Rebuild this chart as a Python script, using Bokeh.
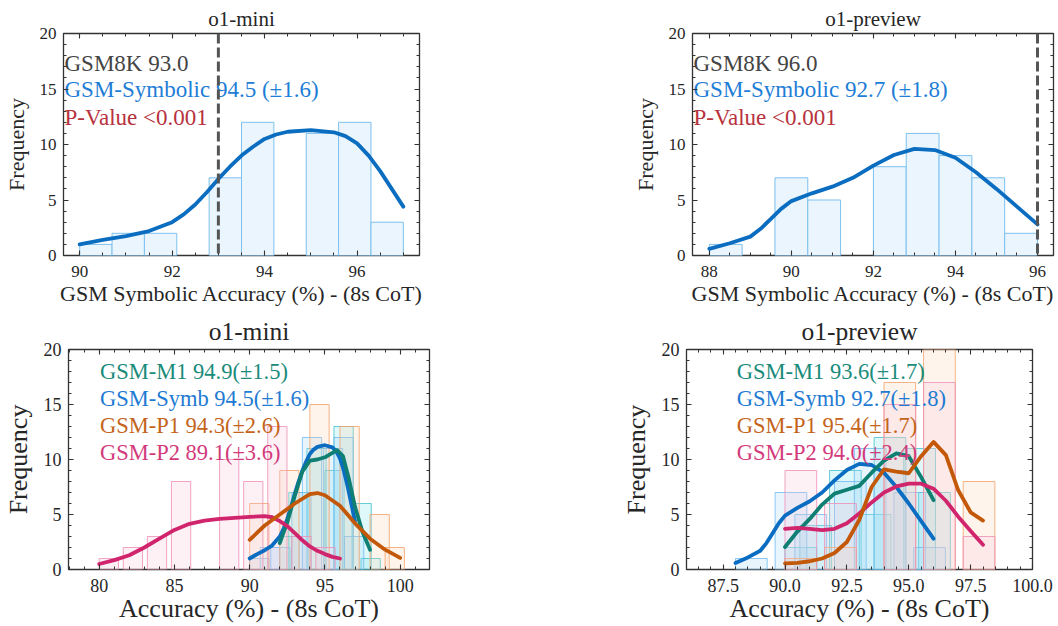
import math
from bokeh.plotting import figure
from bokeh.models import (Range1d, SingleIntervalTicker, FixedTicker, LinearAxis, Span,
                          PrintfTickFormatter, ColumnDataSource)
from bokeh.core.properties import value
from bokeh.layouts import column, row
from bokeh.embed import file_html
from bokeh.resources import INLINE

FONT = "Liberation Serif"
INK = "#262626"

# ---------------- data ----------------
# Top row: GSM-Symbolic accuracy distribution (8s CoT)
mini_sym_bin_left = [90.0, 90.7, 91.4, 92.1, 92.8, 93.5, 94.2, 94.9, 95.6, 96.3]
mini_sym_counts = [1, 2, 2, 0, 7, 12, 0, 11, 12, 3]
mini_sym_bin_w = 0.7
mini_sym_kde_x = [90.0, 90.5, 91.0, 91.5, 92.0, 92.25, 92.5, 92.75, 93.0, 93.25, 93.5, 93.75,
                  94.0, 94.25, 94.5, 95.0, 95.5, 95.75, 96.0, 96.25, 96.5, 96.75, 97.0]
mini_sym_kde_y = [1.0, 1.4, 1.75, 2.2, 3.0, 3.7, 4.6, 5.7, 6.9, 8.0, 9.0, 9.8,
                  10.5, 10.9, 11.15, 11.3, 11.1, 10.75, 10.1, 9.0, 7.6, 6.0, 4.4]
mini_gsm8k = 93.0

prev_sym_bin_left = [88.0, 88.8, 89.6, 90.4, 91.2, 92.0, 92.8, 93.6, 94.4, 95.2]
prev_sym_counts = [1, 0, 7, 5, 0, 8, 11, 9, 7, 2]
prev_sym_bin_w = 0.8
prev_sym_kde_x = [88.0, 88.5, 89.0, 89.25, 89.5, 89.75, 90.0, 90.5, 91.0, 91.5, 92.0, 92.5,
                  93.0, 93.5, 94.0, 94.5, 95.0, 95.5, 96.0]
prev_sym_kde_y = [0.6, 1.1, 1.7, 2.4, 3.3, 4.2, 4.9, 5.6, 6.2, 7.0, 8.1, 9.05,
                  9.6, 9.5, 8.8, 7.5, 6.0, 4.4, 2.8]
prev_gsm8k = 96.0
p_value_text = "<0.001"

# Bottom row: variants
variants = ["GSM-M1", "GSM-Symb", "GSM-P1", "GSM-P2"]
mini_means = [94.9, 94.5, 94.3, 89.1]
mini_stds = [1.5, 1.6, 2.6, 3.6]
prev_means = [93.6, 92.7, 95.4, 94.0]
prev_stds = [1.7, 1.8, 1.7, 2.4]
sym_mini_mean, sym_mini_std = mini_means[1], mini_stds[1]
sym_prev_mean, sym_prev_std = prev_means[1], prev_stds[1]

bottom_bar_w = 1.28

# o1-mini
mini_m1_left = [92.0, 92.6, 93.8, 95.0, 95.6, 96.8, 97.4]
mini_m1_counts = [3, 7, 11, 9, 13, 6, 1]
mini_m1_kde_x = [92.0, 92.5, 93.0, 93.5, 94.0, 94.5, 95.0, 95.5, 95.8, 96.2, 96.6, 97.0, 97.5, 98.0]
mini_m1_kde_y = [2.4, 4.3, 6.7, 8.9, 9.9, 10.0, 10.2, 10.6, 10.85, 10.3, 8.2, 5.7, 3.4, 1.8]

mini_sy_left = [90.0, 90.7, 91.4, 92.8, 93.5, 94.9, 95.6, 96.3]
mini_sy_counts = [1, 2, 2, 7, 12, 11, 12, 3]

mini_p1_left = [90.0, 92.0, 94.0, 96.0, 98.0, 99.0]
mini_p1_counts = [6, 9, 15, 13, 5, 2]
mini_p1_kde_x = [90.0, 91.0, 92.0, 93.0, 94.0, 94.5, 95.0, 96.0, 97.0, 98.0, 99.0, 100.0]
mini_p1_kde_y = [2.7, 4.0, 5.0, 6.0, 6.85, 6.95, 6.75, 5.8, 4.2, 2.8, 1.8, 1.05]

mini_p2_left = [80.0, 81.6, 83.2, 84.8, 88.0, 89.6, 91.2, 92.8, 94.4]
mini_p2_counts = [1, 2, 3, 8, 10, 8, 13, 3, 2]
mini_p2_kde_x = [80, 81, 82, 83, 84, 85, 86, 87, 88, 89, 90, 91, 91.5, 92, 92.5, 93, 93.5,
                 94, 94.5, 95, 95.5, 96]
mini_p2_kde_y = [0.5, 0.85, 1.3, 2.0, 2.8, 3.6, 4.15, 4.45, 4.6, 4.7, 4.78, 4.85, 4.75, 4.4,
                 3.95, 3.3, 2.65, 2.1, 1.7, 1.4, 1.15, 1.0]

# o1-preview
prev_m1_left = [90.0, 90.6, 91.8, 93.0, 93.6, 94.8, 95.4]
prev_m1_counts = [2, 4, 9, 5, 12, 11, 7]
prev_m1_kde_x = [90.0, 90.5, 91.0, 91.5, 92.0, 92.5, 93.0, 93.5, 94.0, 94.5, 95.0, 95.5, 96.0]
prev_m1_kde_y = [2.05, 3.45, 4.6, 5.9, 6.9, 7.25, 7.6, 8.8, 9.9, 10.55, 10.3, 8.4, 6.3]

prev_sy_left = [88.0, 89.6, 90.4, 92.0, 92.8, 93.6, 94.4, 95.2]
prev_sy_counts = [1, 7, 5, 8, 11, 9, 7, 2]

prev_p1_left = [90.0, 91.6, 94.0, 95.6, 97.2]
prev_p1_counts = [1, 2, 17, 22, 8]
prev_p1_kde_x = [90.0, 90.5, 91.0, 91.5, 92.0, 92.5, 93.0, 93.5, 94.0, 94.5, 95.0, 95.5,
                 96.0, 96.5, 97.0, 97.5, 98.0]
prev_p1_kde_y = [0.55, 0.6, 0.75, 1.0, 1.5, 2.5, 4.5, 7.5, 9.1, 8.9, 8.75, 10.3,
                 11.6, 10.4, 7.2, 5.2, 4.45]

prev_p2_left = [90.0, 91.6, 94.0, 95.6, 97.2]
prev_p2_counts = [9, 6, 15, 17, 3]
prev_p2_kde_x = [90.0, 90.5, 91.0, 91.5, 92.0, 92.5, 93.0, 93.5, 94.0, 94.5, 95.0, 95.5,
                 96.0, 96.5, 97.0, 97.5, 98.0]
prev_p2_kde_y = [3.7, 3.78, 3.7, 3.57, 3.7, 4.2, 5.1, 6.1, 7.0, 7.55, 7.8, 7.8,
                 7.35, 6.25, 4.8, 3.5, 2.25]

# ---------------- styles ----------------
LINE_COL = {"GSM-M1": "#0E7F72", "GSM-Symb": "#0A6DC2", "GSM-P1": "#C25808", "GSM-P2": "#D0256C"}
TXT_COL = {"GSM-M1": "#1A8B7B", "GSM-Symb": "#1E7AD2", "GSM-P1": "#C4641C", "GSM-P2": "#D23A7B"}
BAR_EDGE = {"GSM-M1": "#3EC2CC", "GSM-Symb": "#6DB9F0", "GSM-P1": "#F4A066", "GSM-P2": "#EF8DB5"}
BAR_FILL = {"GSM-M1": "#7FE3EC", "GSM-Symb": "#A9D6F7", "GSM-P1": "#FBD3B5", "GSM-P2": "#F9C6DB"}


def tick_positions(lo, hi, step):
    k0 = math.ceil(lo / step - 1e-9)
    k1 = math.floor(hi / step + 1e-9)
    return [round(k * step, 6) for k in range(k0, k1 + 1)]


def mirror_axis(p, loc, lo, hi, step, length):
    ax = LinearAxis(ticker=FixedTicker(ticks=[], minor_ticks=tick_positions(lo, hi, step)))
    ax.axis_line_color = None
    ax.major_tick_line_color = None
    ax.minor_tick_in = length
    ax.minor_tick_out = 0
    ax.minor_tick_line_color = "#333333"
    ax.minor_tick_line_width = 1.1 if length > 4 else 1.0
    ax.major_label_standoff = 0
    p.add_layout(ax, loc)


def base_fig(w, h, xr, yr, borders, title, title_size, xint, xminor, yint=5, yminor=5,
             tick_size="17px", label_size="22px", xlabel="", xfmt=None,
             x_std=11, x_lstd=1, title_off=0):
    l, r, t, b = borders
    p = figure(width=w, height=h, x_range=Range1d(*xr), y_range=Range1d(*yr),
               output_backend="svg", toolbar_location=None, x_axis_type=None, y_axis_type=None,
               min_border_left=l, min_border_right=r, min_border_top=t, min_border_bottom=b,
               title=title)
    p.title.align = "center"
    p.title.text_font = FONT
    p.title.text_font_size = title_size
    p.title.text_font_style = "normal"
    p.title.text_color = INK
    p.title.standoff = title_off
    p.outline_line_color = "#333333"
    p.outline_line_width = 1.3
    p.background_fill_color = "white"
    p.border_fill_color = "white"
    xt = SingleIntervalTicker(interval=xint, num_minor_ticks=xminor)
    yt = SingleIntervalTicker(interval=yint, num_minor_ticks=yminor)
    for loc, tk in (("below", xt), ("left", yt)):
        ax = LinearAxis(ticker=tk)
        ax.axis_line_color = None
        ax.major_tick_in = 5
        ax.major_tick_out = 0
        ax.minor_tick_in = 3
        ax.minor_tick_out = 0
        ax.major_tick_line_color = "#333333"
        ax.minor_tick_line_color = "#333333"
        ax.major_tick_line_width = 1.1
        ax.minor_tick_line_width = 1.0
        ax.major_label_text_font = FONT
        ax.major_label_text_color = INK
        ax.major_label_text_font_size = tick_size
        ax.axis_label_text_font = FONT
        ax.axis_label_text_font_size = label_size
        ax.axis_label_text_font_style = "normal"
        ax.axis_label_text_color = INK
        if loc == "below":
            ax.axis_label = xlabel
            ax.major_label_standoff = x_std
            ax.axis_label_standoff = x_lstd
            if xfmt:
                ax.formatter = PrintfTickFormatter(format=xfmt)
        else:
            ax.axis_label = "Frequency"
            ax.major_label_standoff = 7
            ax.axis_label_standoff = 8
        p.add_layout(ax, loc)
    # inward ticks on the top and right edges
    mirror_axis(p, "above", xr[0], xr[1], xint, 5)
    mirror_axis(p, "above", xr[0], xr[1], xint / xminor, 3)
    mirror_axis(p, "right", yr[0], yr[1], yint, 5)
    mirror_axis(p, "right", yr[0], yr[1], yint / yminor, 3)
    return p


def top_panel(p, left, counts, bw, kx, ky, gsm8k, mean, std):
    lx = [a + bw / 2 for a, c in zip(left, counts) if c > 0]
    cy = [c for c in counts if c > 0]
    p.vbar(x=lx, width=bw, top=cy, bottom=0, fill_color="#EAF5FD", fill_alpha=1.0,
           line_color="#7CC0EF", line_width=1.0)
    p.line(kx, ky, line_color="#0B6DC0", line_width=3.8, line_cap="round", line_join="round")
    p.add_layout(Span(location=gsm8k, dimension="height", line_color="#555555",
                      line_width=3, line_dash="10 4"))
    x0 = p.x_range.start
    src = ColumnDataSource(dict(
        x=[x0, x0, x0],
        y=[17.3, 14.95, 12.45],
        t=[f"GSM8K {gsm8k:.1f}", f"GSM-Symbolic {mean:.1f} (\u00b1{std:.1f})",
           f"P-Value {p_value_text}"],
        c=["#444444", "#1E7DD6", "#B7323D"]))
    p.text(x="x", y="y", text="t", text_color="c", source=src, x_offset=1,
           text_font=value(FONT), text_font_size=value("23px"), text_baseline="alphabetic",
           text_align="left")


def bottom_panel(p, series, means, stds, text_x):
    for name, (left, counts, kx, ky) in zip(variants, series):
        cx = [a + bottom_bar_w / 2 for a in left]
        p.vbar(x=cx, width=bottom_bar_w, top=counts, bottom=0, fill_color=BAR_FILL[name],
               fill_alpha=0.25, line_color=BAR_EDGE[name], line_alpha=0.8, line_width=1.0)
    order = [1, 0, 3, 2]
    for i in order:
        name = variants[i]
        kx, ky = series[i][2], series[i][3]
        p.line(kx, ky, line_color=LINE_COL[name], line_width=3.8, line_cap="round",
               line_join="round")
    src = ColumnDataSource(dict(
        x=[text_x] * len(variants),
        y=[18.0, 15.52, 13.06, 10.6],
        t=[f"{n} {m:.1f}(\u00b1{s:.1f})" for n, m, s in zip(variants, means, stds)],
        c=[TXT_COL[n] for n in variants]))
    p.text(x="x", y="y", text="t", text_color="c", source=src, text_font=value(FONT),
           text_font_size=value("22.5px"), text_baseline="alphabetic", text_align="left")


# ---------------- figures ----------------
top_xlabel = "GSM Symbolic Accuracy (%) - (8s CoT)"
p1 = base_fig(529, 310, (89.65, 97.35), (0, 20), (59, 110, 33, 55), "o1-mini", "21px", 2, 4,
              xlabel=top_xlabel, x_std=10, x_lstd=1, title_off=6)
top_panel(p1, mini_sym_bin_left, mini_sym_counts, mini_sym_bin_w, mini_sym_kde_x,
          mini_sym_kde_y, mini_gsm8k, sym_mini_mean, sym_mini_std)

p2 = base_fig(529, 310, (87.59, 96.39), (0, 20), (163, 5, 33, 55), "o1-preview", "21px", 2, 4,
              xlabel=top_xlabel, x_std=10, x_lstd=1, title_off=6)
top_panel(p2, prev_sym_bin_left, prev_sym_counts, prev_sym_bin_w, prev_sym_kde_x,
          prev_sym_kde_y, prev_gsm8k, sym_prev_mean, sym_prev_std)

bot_xlabel = "Accuracy (%) - (8s CoT)"
p3 = base_fig(529, 316, (77.96, 101.95), (0, 20), (63, 100, 38, 57), "o1-mini", "25.5px", 5, 5,
              tick_size="18px", label_size="26px", xlabel=bot_xlabel, x_std=9, x_lstd=-1,
              title_off=8)
bottom_panel(p3, [(mini_m1_left, mini_m1_counts, mini_m1_kde_x, mini_m1_kde_y),
                  (mini_sy_left, mini_sy_counts, mini_sym_kde_x, mini_sym_kde_y),
                  (mini_p1_left, mini_p1_counts, mini_p1_kde_x, mini_p1_kde_y),
                  (mini_p2_left, mini_p2_counts, mini_p2_kde_x, mini_p2_kde_y)],
             mini_means, mini_stds, 80.05)

p4 = base_fig(529, 316, (86.02, 100.0), (0, 20), (157, 26, 38, 57), "o1-preview", "25.5px", 2.5, 5,
              tick_size="18px", label_size="26px", xlabel=bot_xlabel, xfmt="%.1f", x_std=9,
              x_lstd=-1, title_off=8)
bottom_panel(p4, [(prev_m1_left, prev_m1_counts, prev_m1_kde_x, prev_m1_kde_y),
                  (prev_sy_left, prev_sy_counts, prev_sym_kde_x, prev_sym_kde_y),
                  (prev_p1_left, prev_p1_counts, prev_p1_kde_x, prev_p1_kde_y),
                  (prev_p2_left, prev_p2_counts, prev_p2_kde_x, prev_p2_kde_y)],
             prev_means, prev_stds, 88.05)

layout = column(row(p1, p2), row(p3, p4))
open("out.html", "w").write(file_html(layout, INLINE))
